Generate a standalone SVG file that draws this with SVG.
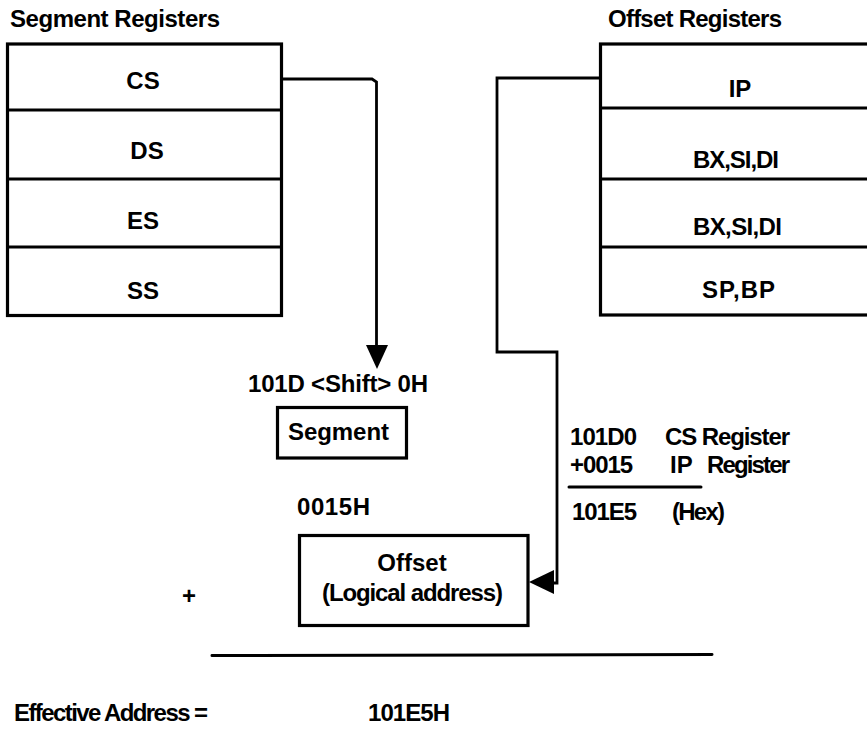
<svg xmlns="http://www.w3.org/2000/svg" width="867" height="729" viewBox="0 0 867 729">
  <style>
    .t { font-family: "Liberation Sans", Arial, Helvetica, sans-serif; font-size: 24px; font-weight: bold; fill: #000; }
    .c { text-anchor: middle; }
    .box { fill: #fff; stroke: #000; stroke-width: 3.2; }
    .div { stroke: #000; stroke-width: 3; }
    .wire { fill: none; stroke: #000; stroke-width: 2.8; stroke-linejoin: miter; }
    .rule { stroke: #000; stroke-width: 3; stroke-linecap: round; }
  </style>
  <rect width="867" height="729" fill="#fff"/>

  <!-- segment register bank -->
  <g id="segment-registers">
    <text class="t" x="10" y="27" textLength="210" lengthAdjust="spacing">Segment Registers</text>
    <rect class="box" x="7.5" y="44" width="274" height="271.5"/>
    <line class="div" x1="7.5" y1="110" x2="281.5" y2="110"/>
    <line class="div" x1="7.5" y1="179" x2="281.5" y2="179"/>
    <line class="div" x1="7.5" y1="247" x2="281.5" y2="247"/>
    <text class="t c" x="143" y="89">CS</text>
    <text class="t c" x="147" y="159">DS</text>
    <text class="t c" x="143" y="229">ES</text>
    <text class="t c" x="143" y="299">SS</text>
  </g>

  <!-- offset register bank -->
  <g id="offset-registers">
    <text class="t" x="608" y="27" textLength="174" lengthAdjust="spacing">Offset Registers</text>
    <rect class="box" x="600.5" y="44" width="280" height="271"/>
    <line class="div" x1="600.5" y1="108" x2="870" y2="108"/>
    <line class="div" x1="600.5" y1="179" x2="870" y2="179"/>
    <line class="div" x1="600.5" y1="247" x2="870" y2="247"/>
    <text class="t c" x="740" y="97">IP</text>
    <text class="t" x="693" y="168" textLength="86" lengthAdjust="spacing">BX,SI,DI</text>
    <text class="t" x="693" y="235" textLength="89" lengthAdjust="spacing">BX,SI,DI</text>
    <text class="t" x="702" y="298" textLength="73" lengthAdjust="spacing">SP,BP</text>
  </g>

  <!-- connectors -->
  <g id="connectors">
    <path class="wire" d="M282,79 H372 L376.5,82 V348"/>
    <polygon points="366,345 388,345 377,369" fill="#000"/>
    <path class="wire" d="M600,78 H497 V352 H557 V583 H552"/>
    <polygon points="554,570 554,594 529,582" fill="#000"/>
  </g>

  <!-- shifted segment value -->
  <g id="segment">
    <text class="t" x="248" y="392" textLength="180" lengthAdjust="spacing">101D &lt;Shift&gt; 0H</text>
    <rect class="box" x="277.5" y="407.5" width="129" height="50.5"/>
    <text class="t" x="288" y="440" textLength="101" lengthAdjust="spacing">Segment</text>
  </g>

  <!-- offset value -->
  <g id="offset">
    <text class="t" x="297" y="515" textLength="73" lengthAdjust="spacing">0015H</text>
    <rect class="box" x="299.5" y="535.5" width="228.5" height="90"/>
    <text class="t c" x="412" y="571">Offset</text>
    <text class="t" x="322" y="601" textLength="181" lengthAdjust="spacing">(Logical address)</text>
    <text class="t" x="182" y="604">+</text>
  </g>

  <!-- worked sum -->
  <g id="sum">
    <text class="t" x="570" y="445" textLength="67" lengthAdjust="spacing">101D0</text>
    <text class="t" x="665" y="445" textLength="125" lengthAdjust="spacing">CS Register</text>
    <text class="t" x="570" y="473" textLength="63" lengthAdjust="spacing">+0015</text>
    <text class="t" x="670" y="473">IP</text>
    <text class="t" x="707" y="473" textLength="83" lengthAdjust="spacing">Register</text>
    <line class="rule" x1="569" y1="487" x2="701" y2="487"/>
    <text class="t" x="572" y="520" textLength="65" lengthAdjust="spacing">101E5</text>
    <text class="t" x="672" y="520" textLength="53" lengthAdjust="spacing">(Hex)</text>
  </g>

  <!-- result -->
  <g id="result">
    <line class="rule" x1="212" y1="655.5" x2="712" y2="654.5"/>
    <text class="t" x="14" y="721" textLength="194" lengthAdjust="spacing">Effective Address =</text>
    <text class="t" x="368" y="721" textLength="82" lengthAdjust="spacing">101E5H</text>
  </g>
</svg>
